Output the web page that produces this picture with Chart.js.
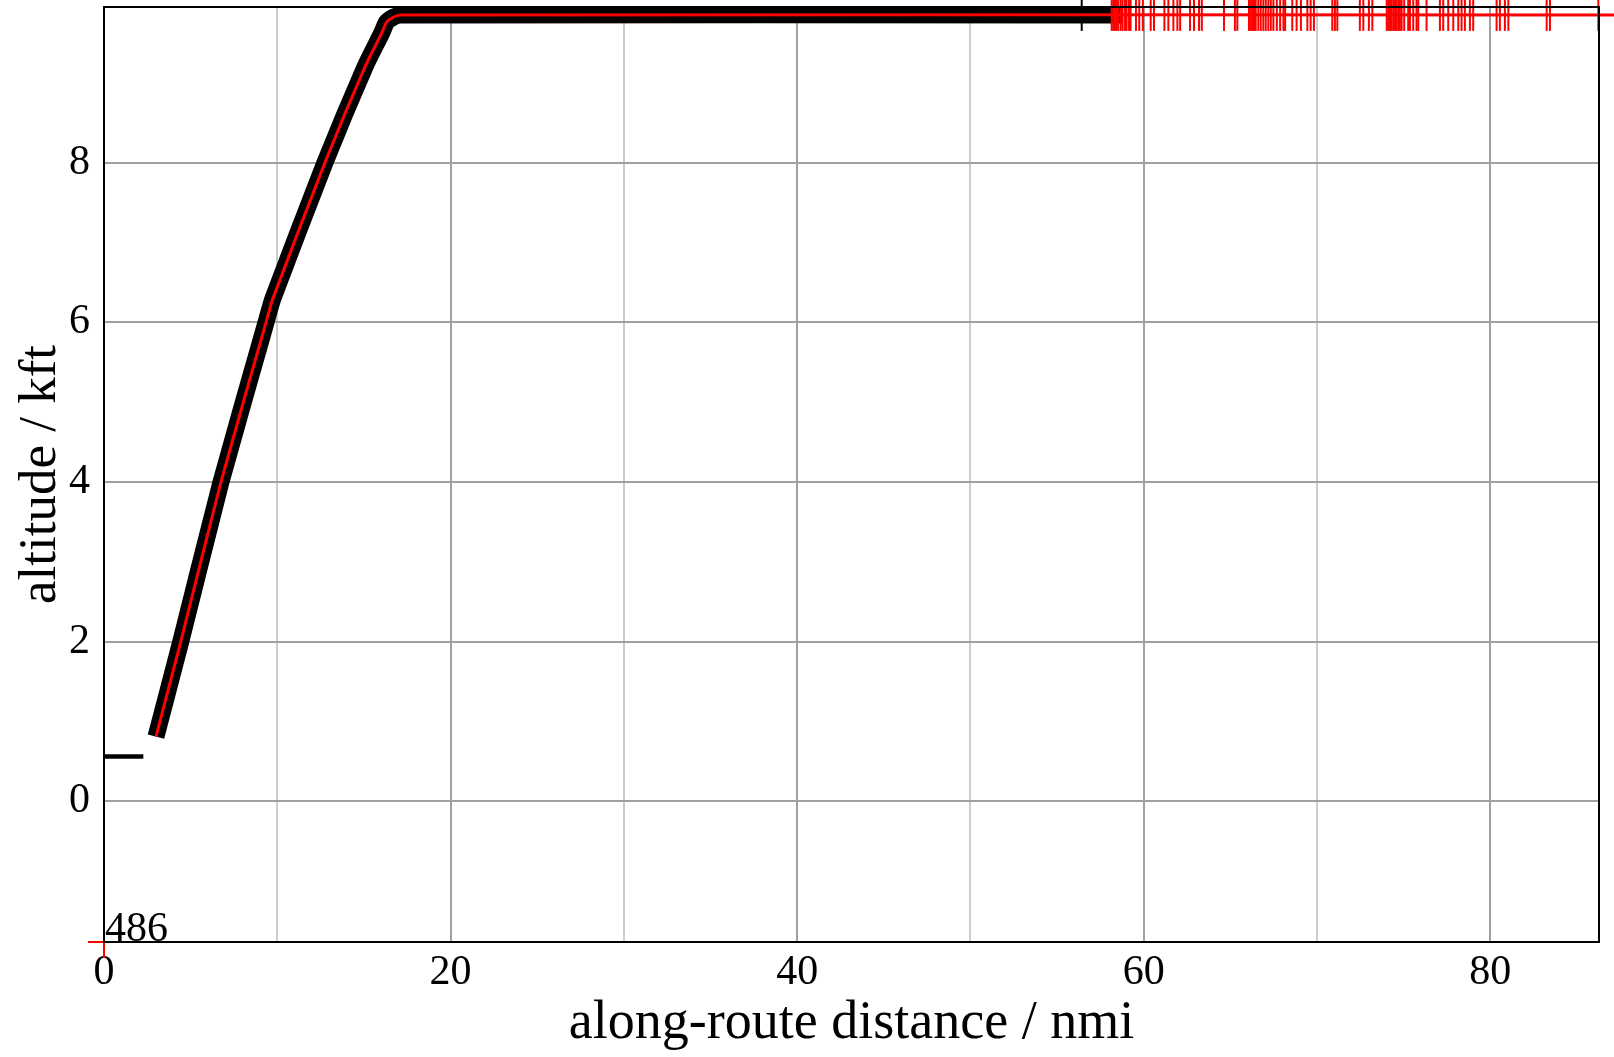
<!DOCTYPE html>
<html><head><meta charset="utf-8">
<script src="https://cdn.jsdelivr.net/npm/chart.js@4.4.0/dist/chart.umd.min.js"></script>
<style>html,body{margin:0;padding:0;background:#fff;overflow:hidden}canvas{display:block}</style>
</head><body>
<canvas id="c" width="1614" height="1057"></canvas>
<script>
// ---- axis ranges & ticks ----
const X_MIN = 0, X_MAX = 86.27;
const Y_MIN = -1.761, Y_MAX = 9.949;
const xTickValues = [0, 10, 20, 30, 40, 50, 60, 70, 80];
const xLabelStep = 20;
const yTickValues = [0, 2, 4, 6, 8];

// ---- climb profile (nmi, kft) ----
const profileDist = [3.0, 4.43, 6.75, 9.35, 9.75, 12.75, 15.06, 16.02, 16.31, 16.69, 17.08];
const profileAlt  = [0.81, 2.0, 4.0, 6.0, 6.3, 8.0, 9.2, 9.62, 9.76, 9.82, 9.85];
const cruiseAlt = 9.85;
const plannedEndDist = 58.8;   // thick black profile ends here
const trackEndDist = 88;       // red track runs past the frame

// ---- short ground segment ----
const groundDist = [0, 2.27];
const groundAlt  = [0.562, 0.562];

// ---- rug marks on the cruise level (nmi) ----
const rugDist = [58.15, 58.24, 58.34, 58.44, 58.53, 58.67, 58.78, 58.92, 59.01, 59.15, 59.24,
  59.55, 59.74, 59.95, 60.40, 60.59, 61.19, 61.42, 61.71, 61.94, 62.10, 62.67, 62.90, 63.19,
  63.35, 64.63, 65.26, 65.40, 66.07, 66.17, 66.26, 66.36, 66.46, 66.61, 66.75, 66.90, 67.04,
  67.19, 67.33, 67.48, 67.68, 67.87, 68.06, 68.16, 68.57, 68.82, 69.07, 69.44, 69.63, 69.82,
  70.88, 71.03, 71.17, 72.47, 72.67, 72.99, 73.19, 74.02, 74.11, 74.21, 74.30, 74.40, 74.50,
  74.59, 74.69, 74.78, 74.88, 75.03, 75.26, 75.36, 75.55, 75.74, 75.84, 76.32, 77.09, 77.28,
  77.57, 77.86, 78.15, 78.34, 78.53, 78.82, 79.01, 80.36, 80.55, 80.84, 81.04, 83.25, 83.44, 86.23];
const markerDist = [56.42];

// ---- origin annotation ----
const originDist = [0];
const originLabel = ['486'];

const FONT = "'Liberation Serif', 'Times New Roman', serif";

const profilePts = profileDist.map((d, i) => ({x: d, y: profileAlt[i]}));
const plannedData = profilePts.concat([{x: plannedEndDist, y: cruiseAlt}]);
const trackData = profilePts.concat([{x: trackEndDist, y: cruiseAlt}]);

const framePlugin = {
  id: 'frame',
  afterDatasetsDraw(chart) {
    const {ctx, chartArea: a} = chart;
    ctx.save();
    ctx.strokeStyle = '#000';
    ctx.lineWidth = 2;
    ctx.strokeRect(a.left, a.top, a.right - a.left, a.bottom - a.top);
    // origin label
    const meta = chart.getDatasetMeta(5);
    ctx.fillStyle = '#000';
    ctx.font = '42px ' + FONT;
    ctx.textAlign = 'left';
    ctx.textBaseline = 'alphabetic';
    meta.data.forEach((p, i) => {
      ctx.fillText(originLabel[i], p.x + 1, p.y - 1);
    });
    ctx.restore();
  }
};

new Chart(document.getElementById('c'), {
  type: 'scatter',
  data: {
    datasets: [
      { // red rug ticks
        data: rugDist.map(d => ({x: d, y: cruiseAlt})),
        showLine: false, pointStyle: 'line', rotation: 90, pointRadius: 16,
        borderColor: '#ff0000', backgroundColor: '#ff0000', pointBorderWidth: 2,
        clip: false, order: 0
      },
      { // red track
        data: trackData, showLine: true, borderColor: '#ff0000', borderWidth: 3,
        pointRadius: 0, borderCapStyle: 'butt', borderJoinStyle: 'round', tension: 0.2,
        clip: false, order: 1
      },
      { // black marker
        data: markerDist.map(d => ({x: d, y: cruiseAlt})),
        showLine: false, pointStyle: 'line', rotation: 90, pointRadius: 16,
        borderColor: '#000', backgroundColor: '#000', pointBorderWidth: 2,
        clip: false, order: 2
      },
      { // thick black profile
        data: plannedData, showLine: true, borderColor: '#000', borderWidth: 17,
        pointRadius: 0, borderCapStyle: 'butt', borderJoinStyle: 'round', tension: 0.2,
        clip: false, order: 3
      },
      { // ground segment
        data: groundDist.map((d, i) => ({x: d, y: groundAlt[i]})),
        showLine: true, borderColor: '#000', borderWidth: 4.5, pointRadius: 0,
        borderCapStyle: 'butt', clip: false, order: 4
      },
      { // origin cross
        data: originDist.map(d => ({x: d, y: Y_MIN})),
        showLine: false, pointStyle: 'cross', pointRadius: 16,
        borderColor: '#ff0000', backgroundColor: '#ff0000', pointBorderWidth: 2,
        clip: false, order: 5
      }
    ]
  },
  options: {
    responsive: false,
    animation: false,
    events: [],
    layout: {autoPadding: false, padding: {left: 0, top: 7, right: 15, bottom: 0}},
    plugins: {legend: {display: false}, tooltip: {enabled: false}},
    scales: {
      x: {
        type: 'linear', min: X_MIN, max: X_MAX,
        afterBuildTicks: s => { s.ticks = xTickValues.map(v => ({value: v})); },
        afterFit: s => { s.height = 115; s.paddingLeft = 0; s.paddingRight = 0; },
        ticks: {
          autoSkip: false, maxRotation: 0, minRotation: 0, padding: 6, color: '#000',
          font: {family: FONT, size: 42},
          callback: v => (v % xLabelStep === 0 ? String(v) : '')
        },
        grid: {
          drawTicks: false, lineWidth: 2,
          color: c => (c.tick && c.tick.value % xLabelStep === 0 ? '#a0a0a0' : '#cccccc')
        },
        border: {display: false},
        title: {display: true, text: 'along-route distance / nmi', color: '#000',
          font: {family: FONT, size: 54}, padding: {top: 0, bottom: 1}}
      },
      y: {
        type: 'linear', min: Y_MIN, max: Y_MAX,
        afterBuildTicks: s => { s.ticks = yTickValues.map(v => ({value: v})); },
        afterFit: s => { s.width = 104; s.paddingTop = 0; s.paddingBottom = 0; },
        ticks: {padding: 14, color: '#000', font: {family: FONT, size: 42}, callback: v => String(v)},
        grid: {drawTicks: false, lineWidth: 2, color: '#a0a0a0'},
        border: {display: false},
        title: {display: true, text: 'altitude / kft', color: '#000',
          font: {family: FONT, size: 53}, padding: {top: 9, bottom: 0}}
      }
    }
  },
  plugins: [framePlugin]
});
</script>
</body></html>
